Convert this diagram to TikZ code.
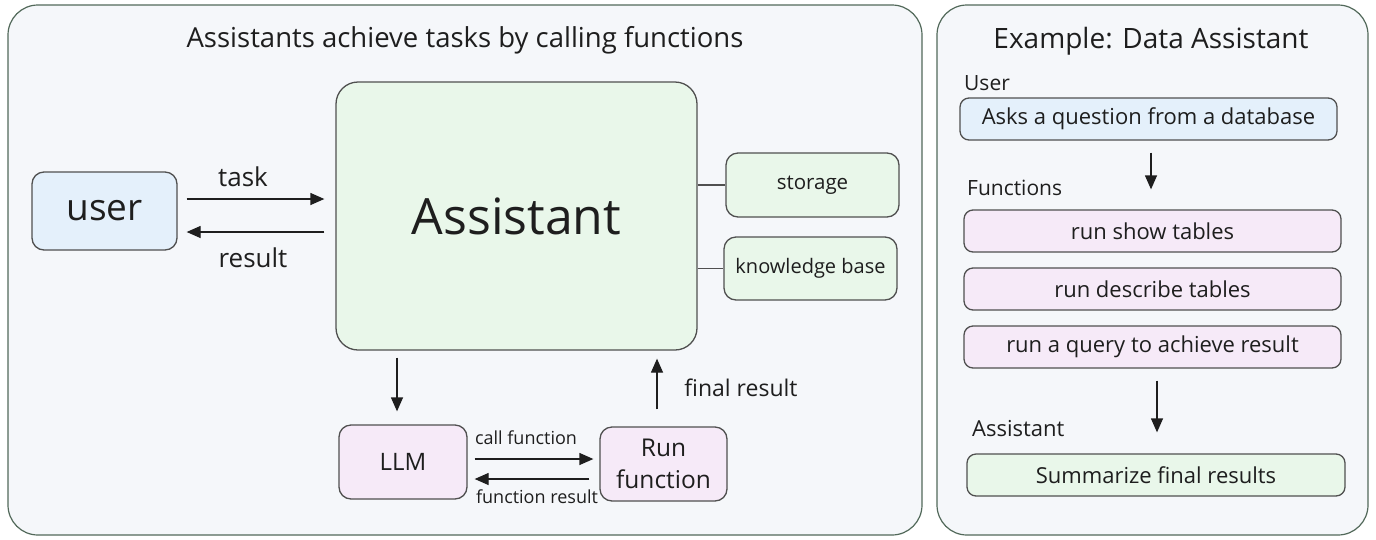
\documentclass[tikz,border=0pt]{standalone}
\usepackage{fontspec}
\setmainfont{Open Sans}
\usepackage{tikz}
\usetikzlibrary{arrows.meta}

\definecolor{ink}{HTML}{1E1E1E}
\definecolor{boxline}{HTML}{505050}
\definecolor{panelline}{HTML}{52695A}
\definecolor{panelbg}{HTML}{F5F7FA}
\definecolor{userblue}{HTML}{E4F0FB}
\definecolor{asstgreen}{HTML}{E9F7EA}
\definecolor{funcpink}{HTML}{F6EAF8}

\newcommand\sized[2]{\fontsize{#1}{#2}\selectfont}

\begin{document}
\begin{tikzpicture}[x=1pt,y=-1pt,
		box/.style={draw=boxline, line width=1.3pt, rounded corners=12pt,
			inner sep=0pt, align=center, text=ink},
		row/.style={box, rounded corners=9pt, minimum width=377pt,
			minimum height=42pt, font=\sized{22}{26}},
		lbl/.style={text=ink, inner sep=0pt},
		flow/.style={-{Triangle[length=14pt,width=12pt]}, line width=1.3pt, draw=ink}]
	\useasboundingbox (0,0) rectangle (1376,539);

	%% the two panels
	\draw[panelline, fill=panelbg, line width=1.2pt, rounded corners=30pt]
		(8,5) rectangle (922,535);
	\draw[panelline, fill=panelbg, line width=1.2pt, rounded corners=30pt]
		(937,5) rectangle (1368,535);

	%% left panel
	\node[lbl, font=\sized{27.5}{32}] (lefttitle) at (465,40)
		{Assistants achieve tasks by calling functions};

	\node[box, fill=userblue, minimum width=145pt, minimum height=78pt,
		font=\sized{37}{44}] (user) at (104.5,211) {user};
	\node[box, fill=asstgreen, rounded corners=22pt, minimum width=361pt,
		minimum height=268pt, font=\sized{50}{56}] (assistant) at (516.5,216) {Assistant};
	\node[box, fill=asstgreen, minimum width=173pt, minimum height=64pt,
		font=\sized{20.5}{24}] (storage) at (812.5,185) {storage};
	\node[box, fill=asstgreen, minimum width=173pt, minimum height=63pt,
		font=\sized{20}{24}] (kbase) at (810.5,268.5) {knowledge base};
	\node[box, fill=funcpink, minimum width=128pt, minimum height=74pt,
		font=\sized{24}{28}] (llm) at (403,462) {LLM};
	\node[box, fill=funcpink, minimum width=127pt, minimum height=74pt,
		font=\sized{24.5}{32}] (runfn) at (663.5,464) {Run\\function};

	% user <-> assistant
	\draw[flow, shorten <=9pt, shorten >=11pt] (user.east |- 0,199) -- (assistant.west |- 0,199);
	\draw[flow, shorten <=11pt, shorten >=9pt] (assistant.west |- 0,232) -- (user.east |- 0,232);
	\node[lbl, font=\sized{26}{30}] (tasklbl) at (243,177) {task};
	\node[lbl, font=\sized{26}{30}] (resultlbl) at (253,258) {result};

	% attached stores
	\draw[boxline, line width=1.2pt] (assistant.east |- storage) -- (storage.west);
	\draw[boxline, line width=1.2pt] (assistant.east |- kbase) -- (kbase.west);

	% function calling loop
	\draw[flow, shorten <=7pt, shorten >=13pt] (assistant.south -| 397,0) -- (llm.north -| 397,0);
	\draw[flow, shorten <=7pt, shorten >=6pt] (llm.east |- 0,459) -- (runfn.west |- 0,459);
	\draw[flow, shorten <=10pt, shorten >=7pt] (runfn.west |- 0,479) -- (llm.east |- 0,479);
	\draw[flow, shorten <=17pt, shorten >=8pt] (runfn.north -| 657,0) -- (assistant.south -| 657,0);
	\node[lbl, font=\sized{18}{21}] (calllbl) at (526,438) {call function};
	\node[lbl, font=\sized{18}{21}] (fnresultlbl) at (537,497) {function result};
	\node[lbl, font=\sized{23}{27}] (finallbl) at (741,388) {final result};

	%% right panel
	\node[lbl, font=\sized{28}{32}] (righttitle) at (1151,41) {Example: Data Assistant};

	\node[lbl, anchor=west, font=\sized{21}{25}] (userhd) at (964,83) {User};
	\node[row, fill=userblue] (ask) at (1148.5,119) {Asks a question from a database};

	\node[lbl, anchor=west, font=\sized{21}{25}] (funchd) at (967,188) {Functions};
	\node[row, fill=funcpink] (show) at (1152.5,231) {run show tables};
	\node[row, fill=funcpink] (describe) at (1152.5,289) {run describe tables};
	\node[row, fill=funcpink] (query) at (1152.5,347) {run a query to achieve result};

	\node[lbl, anchor=west, font=\sized{22}{26}] (assthd) at (972,429) {Assistant};
	\node[row, fill=asstgreen, minimum width=378pt] (summary) at (1156,475) {Summarize final results};

	\draw[flow, shorten <=12pt, shorten >=20pt] (ask.south -| 1151,0) -- (show.north -| 1151,0);
	\draw[flow, shorten <=12pt, shorten >=21pt] (query.south -| 1157,0) -- (summary.north -| 1157,0);
\end{tikzpicture}
\end{document}
